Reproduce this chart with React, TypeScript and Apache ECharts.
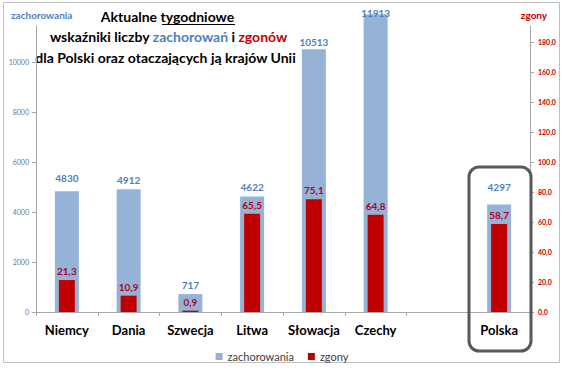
import React, { useEffect, useRef } from "react";
import * as echarts from "echarts";

const categories = ["Niemcy", "Dania", "Szwecja", "Litwa", "Słowacja", "Czechy", "", "Polska"];
const zachorowania: (number | null)[] = [4830, 4912, 717, 4622, 10513, 11913, null, 4297];
const zgony: (number | null)[] = [21.3, 10.9, 0.9, 65.5, 75.1, 64.8, null, 58.7];
const seriesNames = ["zachorowania", "zgony"];
const titleLine1 = ["Aktualne ", "tygodniowe"];
const titleLine2 = ["wskaźniki liczby ", "zachorowań", " i ", "zgonów"];
const titleLine3 = "dla Polski oraz otaczających ją krajów Unii";

// label nudges (style only): extra distance of the blue value labels above bars
const blueLabelDistance = [8, 4, 4, 4, 2, -4, 4, 13];

const FONT = "Lato";
const BLUE = "#95B3D7";
const BLUE_TXT = "#4F81BD";
const RED = "#C00000";

export default function App() {
  const ref = useRef<HTMLDivElement>(null);
  useEffect(() => {
    if (!ref.current) return;
    const chart = echarts.init(ref.current, undefined, { renderer: "svg" });
    const fmt = (v: number) => String(v).replace(".", ",");
    const option: any = {
      animation: false,
      backgroundColor: "#ffffff",
      textStyle: { fontFamily: FONT },
      grid: { left: 36, right: 34, top: 26, bottom: 58, containLabel: false },
      legend: {
        data: seriesNames,
        left: "center",
        top: 346,
        icon: "rect",
        itemWidth: 7,
        itemHeight: 7,
        itemGap: 14,
        textStyle: { fontSize: 11, color: "#404040", fontFamily: FONT },
      },
      xAxis: [
        {
          type: "category",
          data: categories,
          axisLine: { lineStyle: { color: "#A6A6A6" } },
          axisTick: { show: true, length: 4, lineStyle: { color: "#A6A6A6" } },
          axisLabel: {
            interval: 0,
            color: "#000",
            fontWeight: "bold",
            fontSize: 13,
            margin: 11,
            fontFamily: FONT,
          },
        },
        { type: "category", data: categories, show: false },
      ],
      yAxis: [
        {
          type: "value",
          min: 0,
          max: 11440,
          interval: 2000,
          axisLine: { show: true, lineStyle: { color: "#A6A6A6" } },
          axisTick: { show: true, length: 4, lineStyle: { color: "#A6A6A6" } },
          splitLine: { show: false },
          axisLabel: {
            fontSize: 7,
            color: "#5B7BA6",
            margin: 7,
            showMaxLabel: false,
            fontFamily: FONT,
            formatter: (v: number) => String(v),
          },
        },
        {
          type: "value",
          position: "right",
          min: 0,
          max: 190.6667,
          interval: 20,
          axisLine: { show: true, lineStyle: { color: "#A6A6A6" } },
          axisTick: { show: true, length: 4, lineStyle: { color: "#A6A6A6" } },
          splitLine: { show: false },
          axisLabel: {
            fontSize: 7,
            color: RED,
            fontWeight: "bold",
            margin: 8,
            showMaxLabel: false,
            fontFamily: FONT,
            formatter: (v: number) => v.toFixed(1).replace(".", ","),
          },
        },
      ],
      series: [
        {
          name: seriesNames[0],
          type: "bar",
          xAxisIndex: 0,
          yAxisIndex: 0,
          barWidth: 24,
          clip: false,
          itemStyle: { color: BLUE },
          label: {
            show: true,
            position: "top",
            distance: 4,
            color: BLUE_TXT,
            fontWeight: "bold",
            fontSize: 10,
            fontFamily: FONT,
          },
          data: zachorowania.map((v, i) =>
            v == null ? "-" : { value: v, label: { distance: blueLabelDistance[i] } }
          ),
        },
        {
          name: seriesNames[1],
          type: "bar",
          xAxisIndex: 1,
          yAxisIndex: 1,
          barWidth: 16,
          clip: false,
          itemStyle: { color: RED },
          label: {
            show: true,
            position: "top",
            distance: 4,
            color: "#B0001E",
            fontWeight: "bold",
            fontSize: 10,
            fontFamily: FONT,
            formatter: (p: any) => fmt(p.value),
          },
          data: zgony.map((v) => (v == null ? "-" : v)),
        },
      ],
      graphic: [
        {
          type: "rect",
          silent: true,
          shape: { x: 3.5, y: 2.5, width: 556, height: 360 },
          style: { fill: "none", stroke: "#BFBFBF", lineWidth: 1 },
        },
        {
          type: "rect",
          silent: true,
          z: 100,
          shape: { x: 469, y: 167, width: 62, height: 184, r: 10 },
          style: { fill: "none", stroke: "#595959", lineWidth: 3 },
        },
        {
          type: "text",
          x: 11,
          y: 15,
          style: {
            text: seriesNames[0],
            fill: BLUE_TXT,
            fontSize: 10,
            fontWeight: "bold",
            fontFamily: FONT,
            align: "left",
            textAlign: "left",
            verticalAlign: "middle",
            textVerticalAlign: "middle",
          },
        },
        {
          type: "text",
          x: 534,
          y: 15,
          style: {
            text: seriesNames[1],
            fill: RED,
            fontSize: 10,
            fontWeight: "bold",
            fontFamily: FONT,
            align: "center",
            textAlign: "center",
            verticalAlign: "middle",
            textVerticalAlign: "middle",
          },
        },
        {
          type: "text",
          x: 167.5,
          y: 16,
          style: {
            text: titleLine1.join(""),
            fill: "#000",
            fontSize: 14,
            fontWeight: "bold",
            fontFamily: FONT,
            align: "center",
            textAlign: "center",
            verticalAlign: "middle",
            textVerticalAlign: "middle",
          },
        },
        {
          type: "line",
          silent: true,
          shape: { x1: 162, y1: 24.5, x2: 235, y2: 24.5 },
          style: { stroke: "#000", lineWidth: 1 },
        },
        {
          type: "text",
          x: 168.5,
          y: 36,
          style: {
            text: `{b|${titleLine2[0]}}{z|${titleLine2[1]}}{b|${titleLine2[2]}}{r|${titleLine2[3]}}`,
            align: "center",
            textAlign: "center",
            verticalAlign: "middle",
            textVerticalAlign: "middle",
            rich: {
              b: { fill: "#000", fontSize: 14, fontWeight: "bold", fontFamily: FONT },
              z: { fill: BLUE_TXT, fontSize: 14, fontWeight: "bold", fontFamily: FONT },
              r: { fill: RED, fontSize: 14, fontWeight: "bold", fontFamily: FONT },
            },
          },
        },
        {
          type: "text",
          x: 165.5,
          y: 57,
          style: {
            text: titleLine3,
            fill: "#000",
            fontSize: 14,
            fontWeight: "bold",
            fontFamily: FONT,
            align: "center",
            textAlign: "center",
            verticalAlign: "middle",
            textVerticalAlign: "middle",
          },
        },
      ],
    };
    chart.setOption(option);
    return () => chart.dispose();
  }, []);
  return (
    <div
      ref={ref}
      style={{ position: "fixed", left: 0, top: 0, width: 564, height: 370, background: "#fff" }}
    />
  );
}
